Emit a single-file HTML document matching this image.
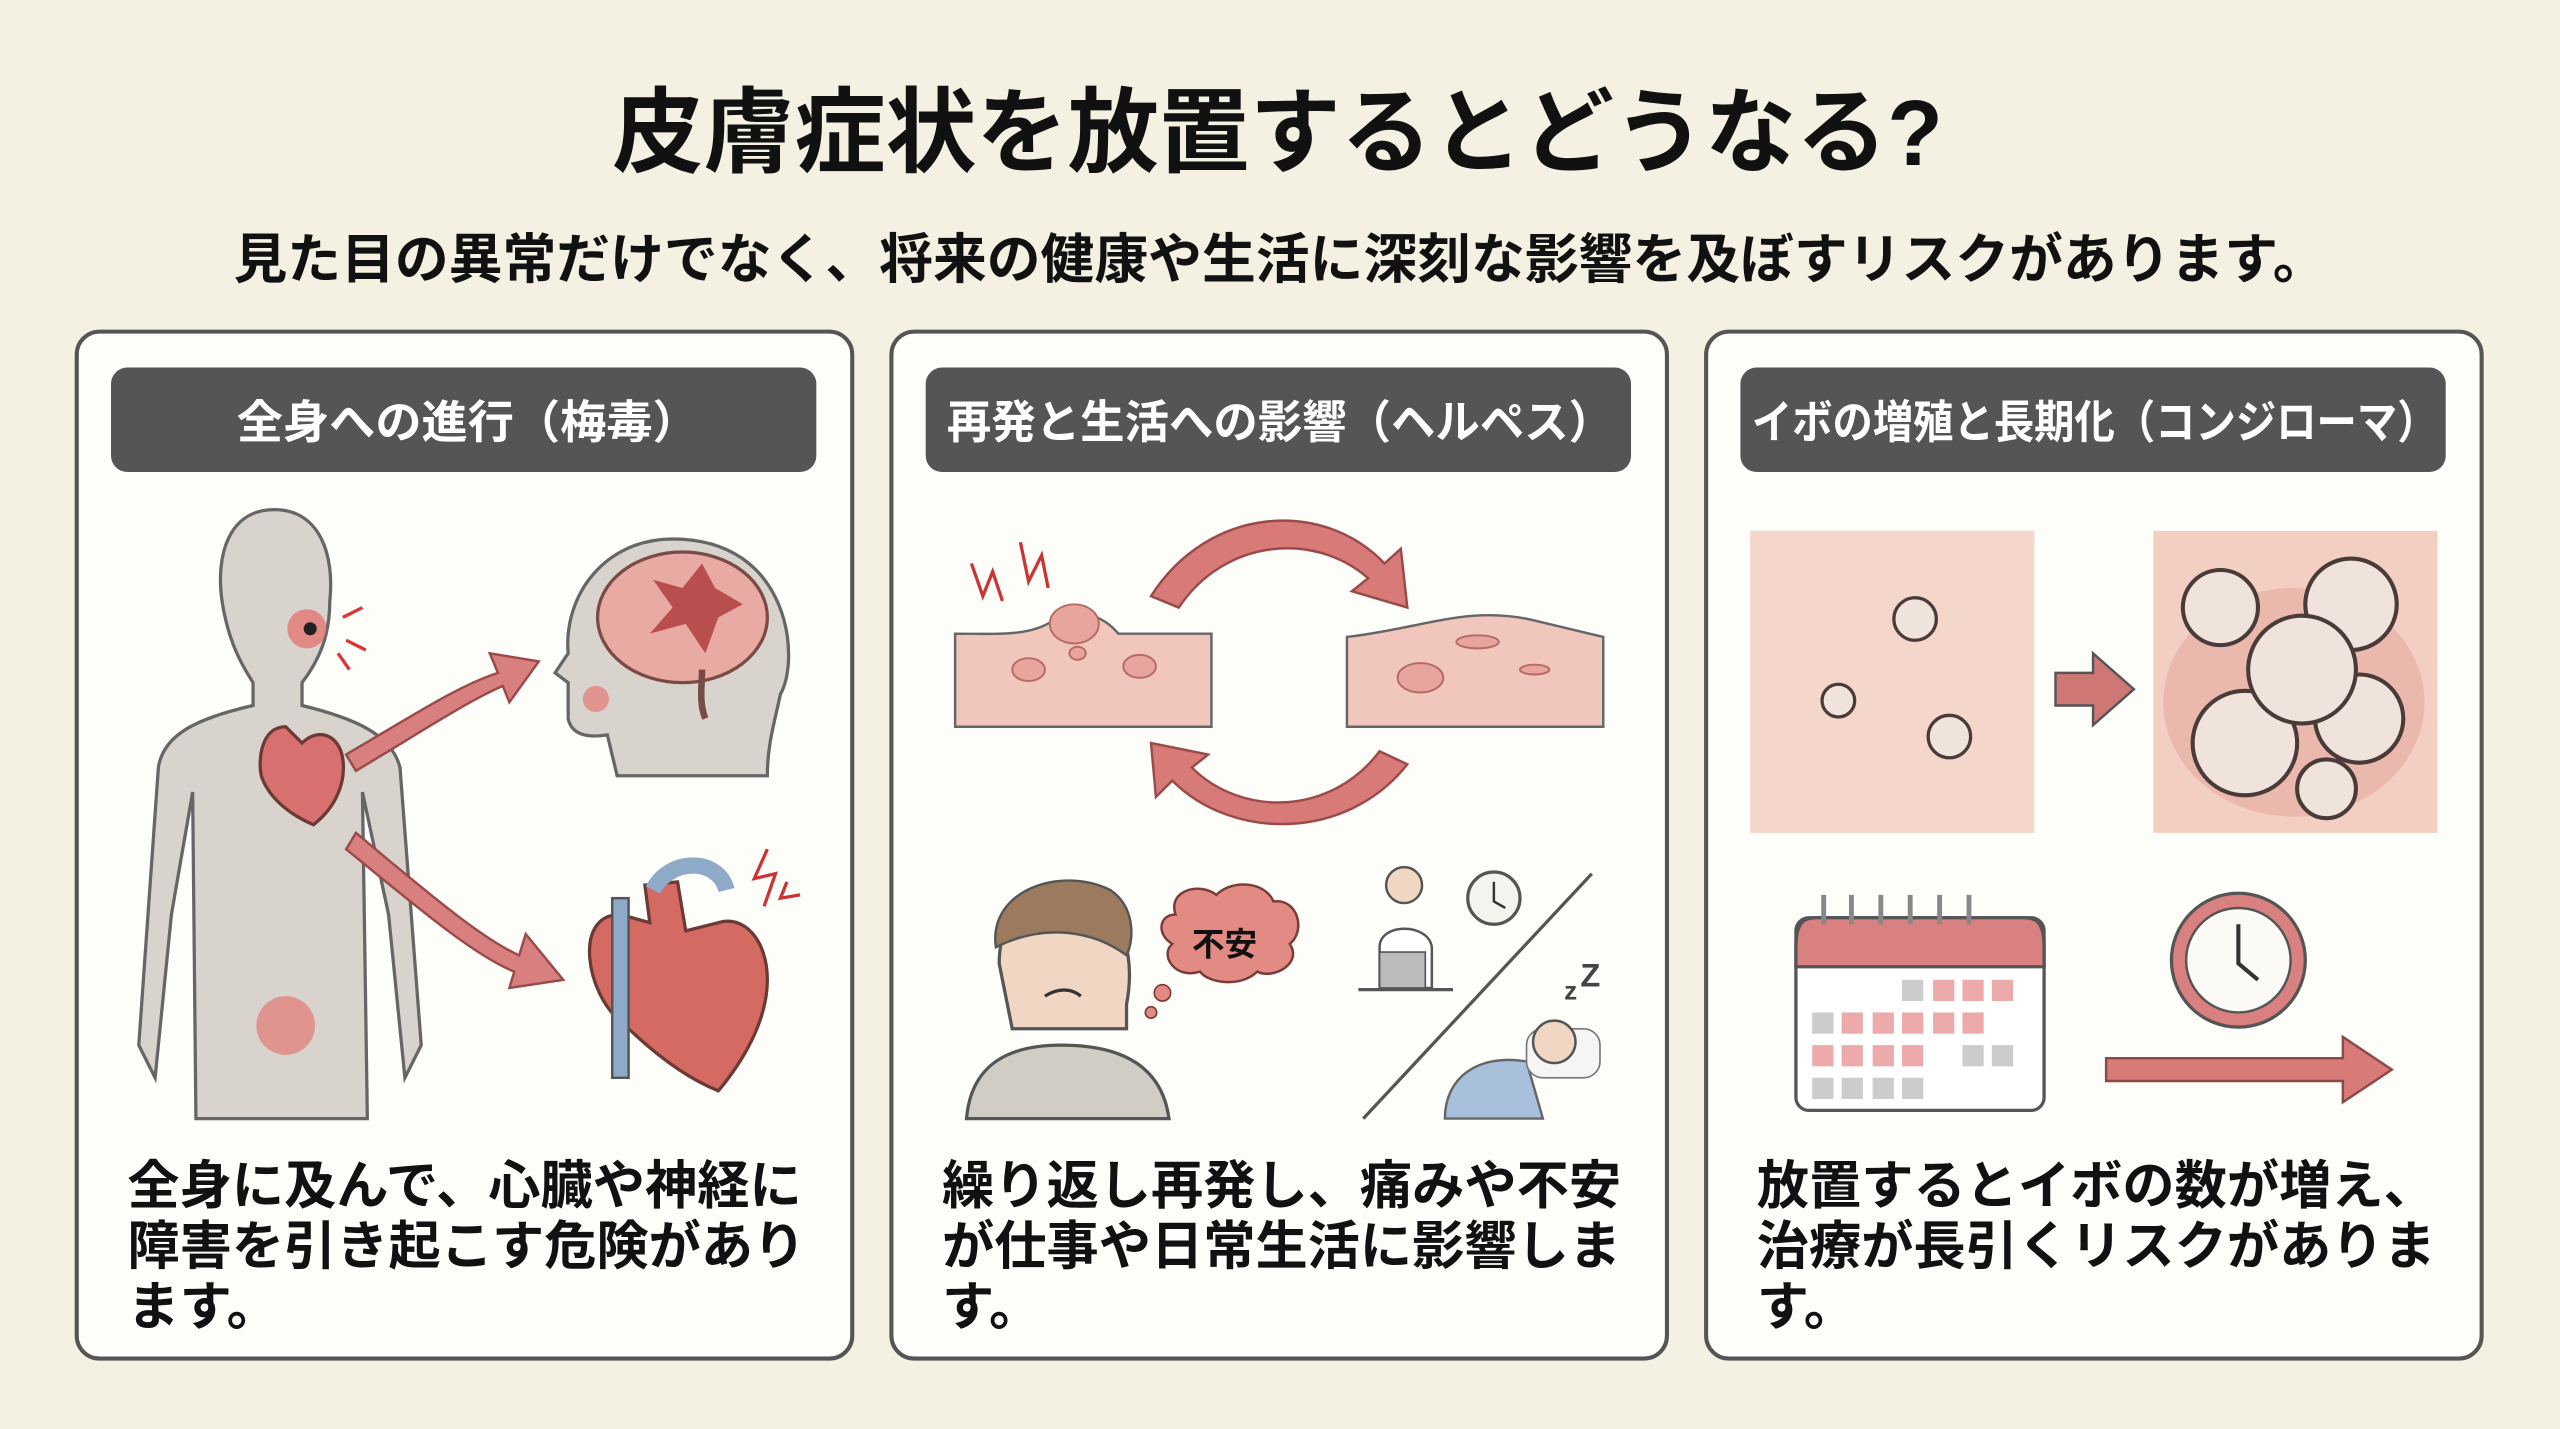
<!DOCTYPE html>
<html><head><meta charset="utf-8"><style>
html,body{margin:0;padding:0;background:#f4f1e2;}
svg{display:block;}
text{font-family:"Liberation Sans","Noto Sans CJK JP",sans-serif;font-weight:bold;}
</style></head><body>
<svg width="2560" height="1429" viewBox="0 0 1568 875" xmlns="http://www.w3.org/2000/svg">
<rect width="1568" height="875" fill="#f4f1e2"/>
<text x="375" y="101" font-size="57" fill="#111" textLength="815" lengthAdjust="spacingAndGlyphs">皮膚症状を放置するとどうなる?</text>
<text x="143" y="170" font-size="33" fill="#111" textLength="1282" lengthAdjust="spacingAndGlyphs">見た目の異常だけでなく、将来の健康や生活に深刻な影響を及ぼすリスクがあります。</text>

<!-- panels -->
<g stroke="#555" stroke-width="2.5" fill="#fdfdfa">
<rect x="47" y="203" width="475" height="629" rx="14"/>
<rect x="546" y="203" width="475" height="629" rx="14"/>
<rect x="1045" y="203" width="475" height="629" rx="14"/>
</g>
<g fill="#555">
<rect x="68" y="225" width="432" height="64" rx="10"/>
<rect x="567" y="225" width="432" height="64" rx="10"/>
<rect x="1066" y="225" width="432" height="64" rx="10"/>
</g>
<g fill="#fff" font-size="28">
<text x="145" y="268" textLength="283" lengthAdjust="spacingAndGlyphs">全身への進行（梅毒）</text>
<text x="580" y="268" textLength="408" lengthAdjust="spacingAndGlyphs">再発と生活への影響（ヘルペス）</text>
<text x="1073" y="268" textLength="420" lengthAdjust="spacingAndGlyphs">イボの増殖と長期化（コンジローマ）</text>
</g>

<!-- panel1 body -->
<g fill="#d9d3cd" stroke="#666" stroke-width="2">
<path d="M168 312 C140 312 132 340 136 368 C140 395 150 410 155 418 L155 432 C120 440 100 450 97 470 L85 640 L95 660 L105 560 L118 485 L120 685 L225 685 L222 485 L238 560 L248 660 L258 640 L245 470 C240 450 218 440 185 432 L185 418 C195 405 202 390 202 368 C205 340 196 312 168 312 Z"/>
<path d="M412 330 C370 330 345 365 348 400 L340 412 L348 418 L348 440 C350 450 360 452 372 450 L378 475 L470 475 C470 455 475 440 478 425 C490 405 485 330 412 330 Z"/>
</g>
<circle cx="188" cy="385" r="12" fill="#e46a66" opacity="0.7"/>
<circle cx="190" cy="385" r="4" fill="#222"/>
<circle cx="175" cy="628" r="18" fill="#e46a66" opacity="0.6"/>
<circle cx="365" cy="428" r="8" fill="#e46a66" opacity="0.6"/>
<path d="M210 378 L222 372 M212 392 L224 398 M207 400 L214 410" stroke="#d33" stroke-width="2"/>
<ellipse cx="418" cy="378" rx="52" ry="40" fill="#e9aaa3" stroke="#7a4a45" stroke-width="2"/>
<path d="M400 355 L412 372 L398 388 L420 382 L432 400 L440 378 L455 370 L438 360 L430 345 L418 360 Z" fill="#b94e4e"/>
<path d="M430 410 C430 420 428 430 432 440" stroke="#7a4a45" stroke-width="4" fill="none"/>
<path d="M175 445 C160 445 158 465 160 475 C165 490 180 500 192 505 C205 495 212 480 210 465 C208 450 195 445 185 455 Z" fill="#d97070" stroke="#6b3a35" stroke-width="2"/>
<path d="M380 560 C350 560 360 610 380 625 C400 645 420 660 440 668 C455 650 470 625 470 600 C470 575 455 560 440 565 L420 570 L415 540 L395 542 L398 565 Z" fill="#d46a62" stroke="#6b3a35" stroke-width="2"/>
<rect x="375" y="550" width="10" height="110" fill="#8fa9c9" stroke="#555" stroke-width="1.5"/>
<path d="M400 545 C410 525 440 525 445 545" stroke="#8fa9c9" stroke-width="10" fill="none"/>
<path d="M470 520 L462 538 L475 535 L468 555 M482 540 L478 550 L490 548" stroke="#c33" stroke-width="2" fill="none"/>
<g fill="#d88080" stroke="#9b4a4a" stroke-width="1.5">
<path d="M212 462 C250 440 280 420 305 412 L300 400 L330 405 L312 430 L308 420 C285 430 255 450 218 472 Z"/>
<path d="M218 510 C260 545 295 575 318 585 L322 572 L345 600 L312 605 L315 595 C290 585 255 555 212 520 Z"/>
</g>

<!-- panel2 -->
<path d="M585 388 C610 388 630 390 645 380 C660 372 675 376 685 388 L742 388 L742 445 L585 445 Z" fill="#f1c6bd" stroke="#666" stroke-width="1.5"/>
<g fill="#e8a59e" stroke="#b56a66" stroke-width="1.2">
<ellipse cx="658" cy="382" rx="15" ry="12"/><ellipse cx="630" cy="410" rx="10" ry="7"/><ellipse cx="698" cy="408" rx="10" ry="7"/><ellipse cx="660" cy="400" rx="5" ry="4"/>
</g>
<path d="M825 390 C870 385 900 370 940 380 L982 390 L982 445 L825 445 Z" fill="#f1c6bd" stroke="#666" stroke-width="1.5"/>
<g fill="#e8a59e" stroke="#b56a66" stroke-width="1.2">
<ellipse cx="870" cy="415" rx="14" ry="9"/><ellipse cx="905" cy="393" rx="13" ry="4"/><ellipse cx="940" cy="410" rx="9" ry="3"/>
</g>
<path d="M595 345 L602 365 L608 350 L614 368 M625 332 L630 356 L638 340 L642 360" stroke="#c33" stroke-width="2" fill="none"/>
<g fill="#d77a78" stroke="#9b4a4a" stroke-width="1.5">
<path d="M705 365 C740 310 810 305 848 345 L858 336 L862 372 L828 362 L838 354 C805 325 750 330 722 372 Z"/>
<path d="M862 468 C825 515 755 515 718 478 L708 488 L705 455 L740 462 L730 470 C760 500 815 500 845 460 Z"/>
</g>
<path d="M612 590 C612 550 645 540 668 550 C690 560 695 590 690 615 L690 630 L620 630 Z" fill="#f2d6c4" stroke="#555" stroke-width="2"/>
<path d="M610 580 C605 545 650 530 680 545 C695 555 695 575 690 585 C670 570 640 565 610 580 Z" fill="#9b7a5e" stroke="#555" stroke-width="1.5"/>
<path d="M592 685 C595 650 620 640 650 640 C690 640 712 655 716 685 Z" fill="#d2cdc4" stroke="#555" stroke-width="2"/>
<path d="M640 610 C648 605 656 605 662 610" stroke="#333" stroke-width="2" fill="none"/>
<path d="M720 560 C715 545 735 540 745 548 C755 538 775 540 780 552 C795 550 800 570 790 578 C798 590 780 600 770 595 C760 605 740 602 735 595 C720 600 710 585 718 578 C708 572 710 560 720 560 Z" fill="#e28a84" stroke="#7a3a38" stroke-width="1.5"/>
<text x="750" y="585" text-anchor="middle" font-size="20" fill="#111">不安</text>
<circle cx="712" cy="608" r="5" fill="#e28a84" stroke="#7a3a38"/><circle cx="705" cy="620" r="3.5" fill="#e28a84" stroke="#7a3a38"/>
<circle cx="860" cy="542" r="11" fill="#f2d6c4" stroke="#555" stroke-width="1.5"/>
<path d="M845 605 L845 580 C845 565 875 565 877 580 L877 605 Z" fill="#fff" stroke="#555" stroke-width="1.5"/>
<rect x="845" y="583" width="28" height="22" fill="#bbb" stroke="#555"/>
<line x1="832" y1="606" x2="890" y2="606" stroke="#555" stroke-width="2"/>
<circle cx="915" cy="550" r="16" fill="#f5f3ee" stroke="#555" stroke-width="2"/>
<path d="M915 540 L915 552 L922 556" stroke="#333" stroke-width="1.5" fill="none"/>
<line x1="835" y1="685" x2="975" y2="535" stroke="#555" stroke-width="2"/>
<text x="958" y="612" font-size="16" fill="#444">z</text><text x="968" y="604" font-size="20" fill="#444">Z</text>
<path d="M885 685 C885 660 905 645 935 650 L945 685 Z" fill="#a9c0dd" stroke="#666" stroke-width="1.5"/>
<rect x="935" y="630" width="45" height="30" rx="10" fill="#f5f5f5" stroke="#777"/>
<circle cx="952" cy="638" r="13" fill="#f2d6c4" stroke="#555" stroke-width="1.5"/>

<!-- panel3 -->
<rect x="1072" y="325" width="174" height="185" fill="#f5d6ca"/>
<rect x="1319" y="325" width="174" height="185" fill="#f3cfc3"/>
<path d="M1259 412 L1282 412 L1282 400 L1307 422 L1282 444 L1282 432 L1259 432 Z" fill="#cf7775" stroke="#555" stroke-width="1.5"/>
<g fill="#efe3dc" stroke="#4a3b38" stroke-width="2">
<circle cx="1173" cy="379" r="13"/><circle cx="1126" cy="429" r="10"/><circle cx="1194" cy="451" r="13"/>
</g>
<ellipse cx="1405" cy="430" rx="80" ry="70" fill="#e6a9a0" opacity="0.6"/>
<g fill="#efe3dc" stroke="#4a3b38" stroke-width="2.5">
<circle cx="1360" cy="372" r="23"/><circle cx="1440" cy="370" r="28"/><circle cx="1375" cy="455" r="32"/>
<circle cx="1445" cy="440" r="27"/><circle cx="1410" cy="410" r="33"/><circle cx="1425" cy="483" r="18"/>
</g>
<rect x="1100" y="562" width="152" height="118" rx="8" fill="#fff" stroke="#555" stroke-width="2"/>
<path d="M1100 580 C1100 566 1104 562 1112 562 L1240 562 C1248 562 1252 566 1252 580 L1252 592 L1100 592 Z" fill="#d98080" stroke="#555" stroke-width="2"/>
<g stroke="#888" stroke-width="3"><line x1="1117" y1="548" x2="1117" y2="566"/><line x1="1134" y1="548" x2="1134" y2="566"/><line x1="1152" y1="548" x2="1152" y2="566"/><line x1="1170" y1="548" x2="1170" y2="566"/><line x1="1188" y1="548" x2="1188" y2="566"/><line x1="1206" y1="548" x2="1206" y2="566"/></g>
<g fill="#ccc">
<rect x="1165" y="600" width="13" height="13"/><rect x="1110" y="620" width="13" height="13"/><rect x="1220" y="640" width="13" height="13"/><rect x="1202" y="640" width="13" height="13"/>
<rect x="1110" y="660" width="13" height="13"/><rect x="1128" y="660" width="13" height="13"/><rect x="1147" y="660" width="13" height="13"/><rect x="1165" y="660" width="13" height="13"/>
</g>
<g fill="#ecaaaa">
<rect x="1184" y="600" width="13" height="13"/><rect x="1202" y="600" width="13" height="13"/><rect x="1220" y="600" width="13" height="13"/>
<rect x="1128" y="620" width="13" height="13"/><rect x="1147" y="620" width="13" height="13"/><rect x="1165" y="620" width="13" height="13"/><rect x="1184" y="620" width="13" height="13"/><rect x="1202" y="620" width="13" height="13"/>
<rect x="1110" y="640" width="13" height="13"/><rect x="1128" y="640" width="13" height="13"/><rect x="1147" y="640" width="13" height="13"/><rect x="1165" y="640" width="13" height="13"/>
</g>
<circle cx="1371" cy="588" r="41" fill="#d98080" stroke="#555" stroke-width="2"/>
<circle cx="1371" cy="588" r="32" fill="#fbfaf7" stroke="#555" stroke-width="1.5"/>
<path d="M1371 566 L1371 590 L1383 600" stroke="#333" stroke-width="2.5" fill="none"/>
<path d="M1290 648 L1435 648 L1435 635 L1465 655 L1435 675 L1435 662 L1290 662 Z" fill="#d77a78" stroke="#8a4a48" stroke-width="1.5"/>

<!-- body texts -->
<g font-size="32" fill="#111">
<text x="78" y="737">全身に及んで、心臓や神経に</text>
<text x="78" y="774">障害を引き起こす危険があり</text>
<text x="78" y="811">ます。</text>
<text x="577" y="737">繰り返し再発し、痛みや不安</text>
<text x="577" y="774">が仕事や日常生活に影響しま</text>
<text x="577" y="811">す。</text>
<text x="1076" y="737">放置するとイボの数が増え、</text>
<text x="1076" y="774">治療が長引くリスクがありま</text>
<text x="1076" y="811">す。</text>
</g>
</svg>
</body></html>
